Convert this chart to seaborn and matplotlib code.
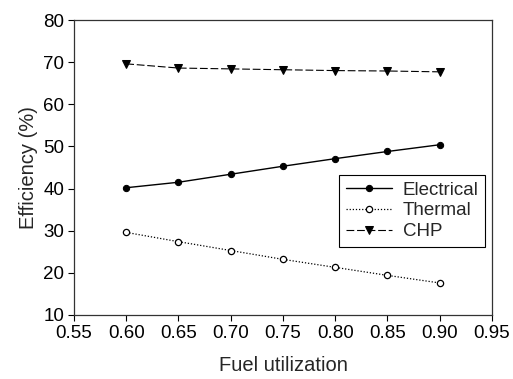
import pandas as pd
import matplotlib
matplotlib.use('Agg')
import matplotlib.pyplot as plt
import seaborn as sns

# Data
fuel_utilization = [0.60, 0.65, 0.70, 0.75, 0.80, 0.85, 0.90]
electrical = [40.2, 41.5, 43.4, 45.3, 47.1, 48.8, 50.4]
thermal = [29.6, 27.4, 25.3, 23.2, 21.3, 19.4, 17.6]
chp = [69.6, 68.6, 68.4, 68.2, 68.0, 67.9, 67.7]

sns.set_style('ticks')
plt.rcParams['font.family'] = ['Liberation Sans', 'DejaVu Sans']

df = pd.DataFrame({'x': fuel_utilization, 'Electrical': electrical,
                   'Thermal': thermal, 'CHP': chp})

fig = plt.figure(figsize=(5.13, 3.79), dpi=100)
ax = fig.add_axes([0.1442, 0.1689, 0.8148, 0.7783])

sns.lineplot(data=df, x='x', y='Electrical', ax=ax, color='black', lw=1,
             marker='o', markersize=4.5, markerfacecolor='black',
             markeredgecolor='black', label='Electrical')
sns.lineplot(data=df, x='x', y='Thermal', ax=ax, color='black', lw=0.9,
             linestyle=(0, (1, 1.5)), marker='o', markersize=4.5,
             markerfacecolor='white', markeredgecolor='black', mew=0.9,
             label='Thermal')
sns.lineplot(data=df, x='x', y='CHP', ax=ax, color='black', lw=0.8,
             linestyle=(0, (7, 2.5)), marker='v', markersize=5.5,
             markerfacecolor='black', markeredgecolor='black', label='CHP')

ax.set_xlim(0.55, 0.95)
ax.set_ylim(10, 80)
ax.set_xticks([0.55, 0.60, 0.65, 0.70, 0.75, 0.80, 0.85, 0.90, 0.95])
ax.set_xticklabels(['%.2f' % v for v in ax.get_xticks()])
ax.set_yticks(range(10, 81, 10))
ax.tick_params(labelsize=13.5, direction='out', length=4, width=0.8,
               colors='black', pad=3)
for s in ax.spines.values():
    s.set_color('#333333')
    s.set_linewidth(0.9)

ax.set_xlabel('Fuel utilization', fontsize=14.5, labelpad=10)
ax.set_ylabel('Efficiency (%)', fontsize=14.5, labelpad=4)

leg = ax.legend(loc='upper left', bbox_to_anchor=(0.634, 0.475), fontsize=13.5,
                frameon=True, fancybox=False, framealpha=1, edgecolor='black',
                handlelength=2.5, handletextpad=0.55, borderpad=0.35,
                labelspacing=0.2, borderaxespad=0)
leg.get_frame().set_linewidth(0.8)

plt.savefig('out.png', dpi=100)
plt.close()
